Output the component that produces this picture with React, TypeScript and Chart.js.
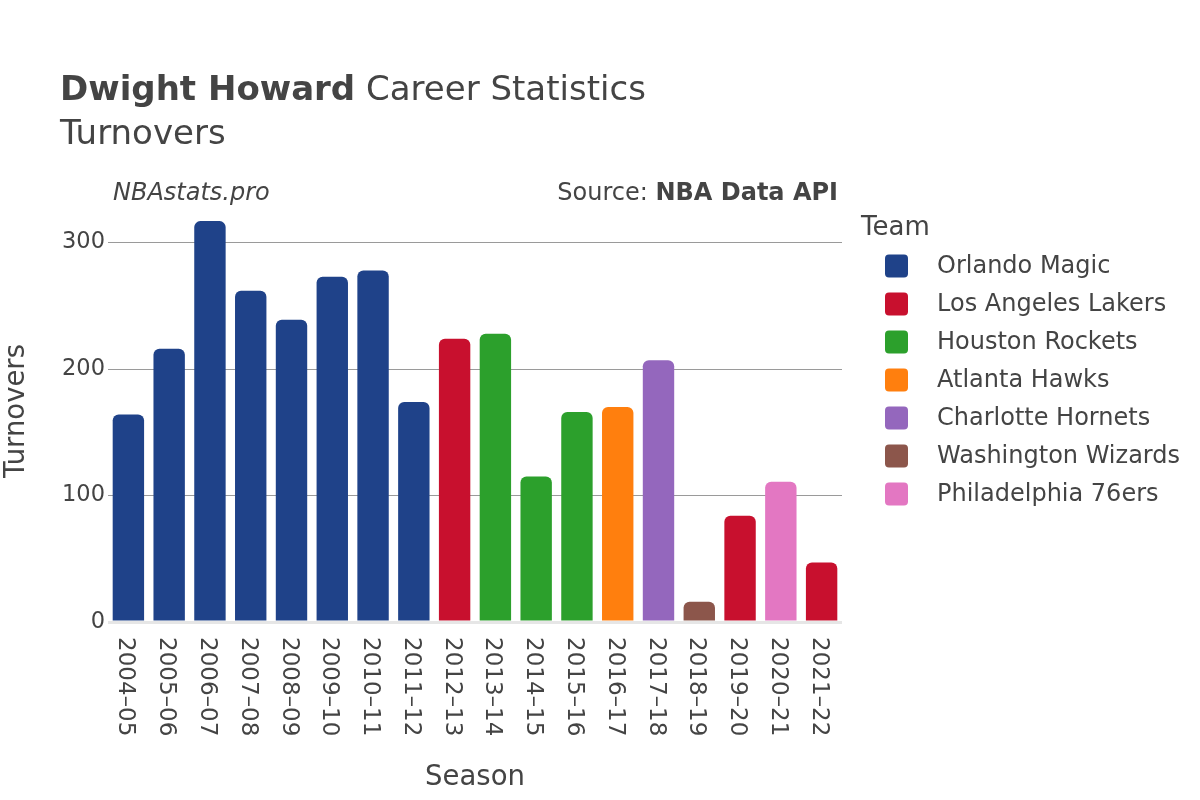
import React, { useEffect, useRef } from "react";
import { Chart, registerables } from "chart.js";

Chart.register(...registerables);

const seasons = [
  "2004–05", "2005–06", "2006–07", "2007–08", "2008–09", "2009–10",
  "2010–11", "2011–12", "2012–13", "2013–14", "2014–15", "2015–16",
  "2016–17", "2017–18", "2018–19", "2019–20", "2020–21", "2021–22",
];
const turnovers = [164, 216, 317, 262, 239, 273, 278, 174, 224, 228, 115, 166, 170, 207, 16, 84, 111, 47];
const seasonTeams = [
  "Orlando Magic", "Orlando Magic", "Orlando Magic", "Orlando Magic", "Orlando Magic", "Orlando Magic",
  "Orlando Magic", "Orlando Magic", "Los Angeles Lakers", "Houston Rockets", "Houston Rockets", "Houston Rockets",
  "Atlanta Hawks", "Charlotte Hornets", "Washington Wizards", "Los Angeles Lakers", "Philadelphia 76ers", "Los Angeles Lakers",
];
const teams = [
  "Orlando Magic", "Los Angeles Lakers", "Houston Rockets", "Atlanta Hawks",
  "Charlotte Hornets", "Washington Wizards", "Philadelphia 76ers",
];
const teamColors = ["#1f4289", "#c8102e", "#2ca02c", "#ff7f0e", "#9467bd", "#8c564b", "#e377c2"];
const yTicks = [0, 100, 200, 300];

const FONT = "'DejaVu Sans', sans-serif";
const TEXT = "#444";

const colorFor = (team: string) => teamColors[teams.indexOf(team)];

const overlay = {
  id: "overlay",
  afterDraw(chart: any) {
    const ctx = chart.ctx;
    const area = chart.chartArea;
    const xs = chart.scales.x;
    ctx.save();
    ctx.fillStyle = TEXT;
    ctx.textBaseline = "alphabetic";
    ctx.textAlign = "left";
    // Title
    ctx.font = `bold 34px ${FONT}`;
    const bold = "Dwight Howard";
    ctx.fillText(bold, 60, 100);
    const bw = ctx.measureText(bold).width;
    ctx.font = `34px ${FONT}`;
    ctx.fillText(" Career Statistics", 60 + bw, 100);
    ctx.fillText("Turnovers", 60, 144);
    // Subtitle annotations
    ctx.font = `italic 24px ${FONT}`;
    ctx.fillText("NBAstats.pro", 113, 200);
    ctx.textAlign = "right";
    ctx.font = `bold 24px ${FONT}`;
    const api = "NBA Data API";
    ctx.fillText(api, 838, 200);
    const aw = ctx.measureText(api).width;
    ctx.font = `24px ${FONT}`;
    ctx.fillText("Source: ", 838 - aw, 200);
    // X tick labels rotated clockwise
    ctx.font = `23px ${FONT}`;
    ctx.textAlign = "left";
    ctx.textBaseline = "middle";
    seasons.forEach((s, i) => {
      const x = xs.getPixelForTick(i);
      ctx.save();
      ctx.translate(x - 3, area.bottom + 15);
      ctx.rotate(Math.PI / 2);
      ctx.fillText(s, 0, 0);
      ctx.restore();
    });
    // Axis titles
    ctx.font = `27.5px ${FONT}`;
    ctx.textAlign = "center";
    ctx.textBaseline = "middle";
    ctx.fillText("Season", (area.left + area.right) / 2, 778);
    ctx.save();
    ctx.translate(17, (area.top + area.bottom) / 2);
    ctx.rotate(-Math.PI / 2);
    ctx.fillText("Turnovers", 0, 0);
    ctx.restore();
    // Legend
    ctx.textAlign = "left";
    ctx.textBaseline = "middle";
    ctx.font = `26px ${FONT}`;
    ctx.fillText("Team", 861, 228);
    ctx.font = `24px ${FONT}`;
    teams.forEach((t, i) => {
      const cy = 266 + i * 38;
      ctx.fillStyle = teamColors[i];
      ctx.beginPath();
      (ctx as any).roundRect(885, cy - 11.5, 23, 23, 4);
      ctx.fill();
      ctx.fillStyle = TEXT;
      ctx.fillText(t, 937, cy + 1);
    });
    ctx.restore();
  },
};

export default function App() {
  const ref = useRef<HTMLCanvasElement | null>(null);
  useEffect(() => {
    if (!ref.current) return;
    const chart = new Chart(ref.current, {
      type: "bar",
      data: {
        labels: seasons,
        datasets: [
          {
            label: "Turnovers",
            data: turnovers,
            backgroundColor: seasonTeams.map(colorFor),
            borderRadius: 6,
            borderSkipped: "bottom",
            barPercentage: 0.77,
            categoryPercentage: 1,
          },
        ],
      },
      options: {
        animation: false,
        responsive: true,
        maintainAspectRatio: false,
        layout: { padding: { top: 200, left: 0, right: 358, bottom: 0 } },
        plugins: {
          legend: { display: false },
          tooltip: { enabled: false },
          title: { display: false },
        },
        scales: {
          x: {
            grid: { display: false },
            border: { display: false },
            ticks: { display: false },
            afterFit: (s: any) => {
              s.height = 178;
            },
          },
          y: {
            min: 0,
            max: 333.7,
            afterBuildTicks: (s: any) => {
              s.ticks = yTicks.map((v) => ({ value: v }));
            },
            grid: {
              drawTicks: false,
              color: (c: any) => (c.tick && c.tick.value === 0 ? "#e6e6e6" : "#9a9a9a"),
              lineWidth: (c: any) => (c.tick && c.tick.value === 0 ? 3 : 1),
            },
            border: { display: false },
            ticks: {
              padding: 3,
              color: TEXT,
              font: { family: FONT, size: 22.5 },
            },
            afterFit: (s: any) => {
              s.width = 108;
            },
          },
        },
      },
      plugins: [overlay],
    });
    return () => chart.destroy();
  }, []);
  return (
    <div style={{ position: "fixed", left: 0, top: 0, width: 1200, height: 800, background: "#fff" }}>
      <canvas ref={ref} />
    </div>
  );
}
